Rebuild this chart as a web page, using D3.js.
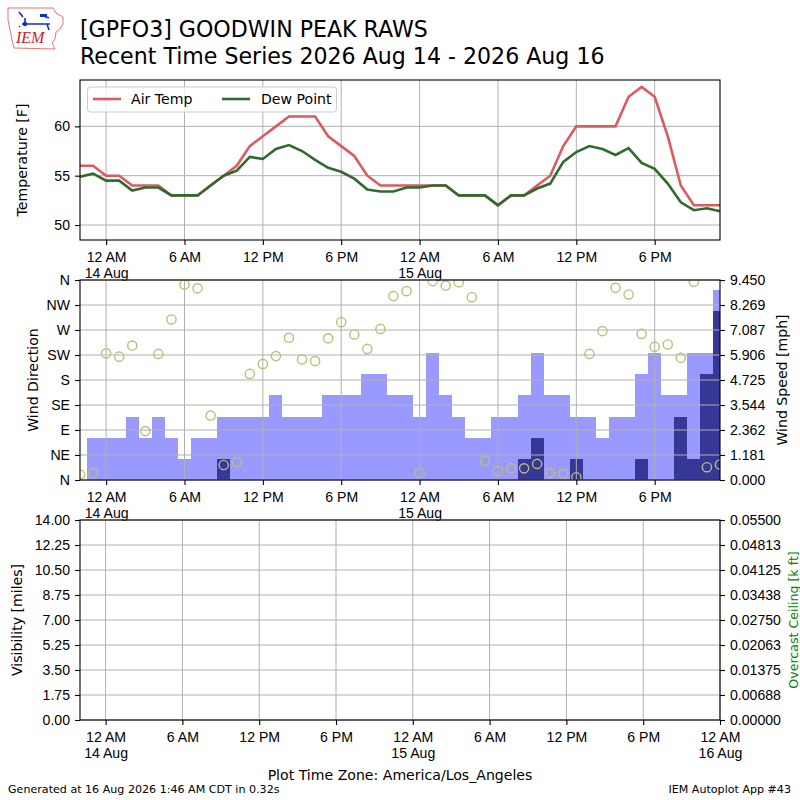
<!DOCTYPE html>
<html>
<head>
<meta charset="utf-8">
<title>GPFO3 Recent Time Series</title>
<script src="https://d3js.org/d3.v7.min.js"></script>
<style>
  body { margin: 0; background: #fff; }
  svg { font-family: "DejaVu Sans", sans-serif; }
  .grid line { stroke: #b0b0b0; stroke-width: 1; }
  .axis line { stroke: #000; stroke-width: 1.1; }
  .axis text { font-size: 14.1px; fill: #000; }
  .label { font-size: 14.1px; }
</style>
</head>
<body>
<svg id="chart" width="800" height="800"></svg>
<script>
// hourly observations, 22:00 13 Aug to 23:00 15 Aug (local time)
const airTemp = [56, 56, 55, 55, 54, 54, 54, 53, 53, 53,
  54, 55, 56, 58, 59, 60, 61, 61, 61, 59,
  58, 57, 55, 54, 54, 54, 54, 54, 54, 53,
  53, 53, 52, 53, 53, 54, 55, 58, 60, 60,
  60, 60, 63, 64, 63, 59, 54, 52, 52, 52];
const dewPoint = [54.9, 55.2, 54.5, 54.5, 53.5, 53.8, 53.8, 53.0, 53.0, 53.0,
  54.0, 55.0, 55.5, 56.9, 56.7, 57.7, 58.1, 57.5, 56.6, 55.8,
  55.4, 54.7, 53.6, 53.4, 53.4, 53.8, 53.8, 54.0, 54.0, 53.0,
  53.0, 53.0, 52.0, 53.0, 53.0, 53.7, 54.2, 56.4, 57.4, 58.0,
  57.7, 57.1, 57.8, 56.3, 55.7, 54.2, 52.3, 51.5, 51.7, 51.4];
const windDir = [10, 12, 228, 222, 242, 88, 227, 289, 352, 345,
  116, 27, 32, 191, 209, 223, 256, 217, 214, 255,
  284, 262, 236, 272, 331, 340, 13, 358, 350, 356,
  329, 35, 16, 21, 21, 29, 13, 11, 5, 227,
  268, 346, 334, 263, 240, 244, 220, 357, 23, 28];
const windGust = [0, 2, 2, 2, 3, 2, 3, 2, 1, 2,
  2, 3, 3, 3, 3, 4, 3, 3, 3, 4,
  4, 4, 5, 5, 4, 4, 3, 6, 4, 3,
  2, 2, 3, 3, 4, 6, 4, 4, 3, 3,
  2, 3, 3, 5, 6, 4, 4, 6, 6, 9];
const windSpeed = [0, 0, 0, 0, 0, 0, 0, 0, 0, 0,
  0, 1, 0, 0, 0, 0, 0, 0, 0, 0,
  0, 0, 0, 0, 0, 0, 0, 0, 0, 0,
  0, 0, 0, 0, 1, 2, 0, 0, 1, 0,
  0, 0, 0, 1, 0, 0, 3, 1, 5, 8];
const dirLabels = ["N", "NE", "E", "SE", "S", "SW", "W", "NW", "N"];
const tempTicks = [50, 55, 60];
const speedMax = 9.45;
const visMax = 14;
const ceilMax = 0.055;

const svg = d3.select("#chart");
const L = 80, R = 720;

const start = new Date(Date.UTC(2026, 7, 13, 22));
const end = new Date(Date.UTC(2026, 7, 16, 0));
const hours = d3.utcHour.range(start, end);   // 50 hourly stamps
const obs = hours.map((t, i) => ({
  t, air: airTemp[i], dew: dewPoint[i], dir: windDir[i], gust: windGust[i], sped: windSpeed[i]
}));

const x = d3.scaleUtc().domain([hours[0], hours[hours.length - 1]]).range([L, R]);
const xVis = d3.scaleUtc().domain([start, end]).range([L, R]);

const fmtHour = d3.utcFormat("%-I %p");
const fmtDay = d3.utcFormat("%-d %b");

function timeAxis(scale, y) {
  const g = svg.append("g").attr("class", "axis").attr("transform", `translate(0,${y})`)
    .call(d3.axisBottom(scale).ticks(d3.utcHour.every(6)).tickSize(5).tickSizeOuter(0).tickFormat(""));
  g.select(".domain").remove();
  g.selectAll(".tick text").each(function(d) {
    const t = d3.select(this).attr("dy", null).attr("y", null);
    t.append("tspan").attr("x", 0).attr("y", 22).text(fmtHour(d));
    if (d.getUTCHours() === 0) t.append("tspan").attr("x", 0).attr("y", 38).text(fmtDay(d));
  });
}

function vGrid(scale, top, bottom) {
  svg.append("g").attr("class", "grid").selectAll("line")
    .data(scale.ticks(d3.utcHour.every(6))).join("line")
    .attr("x1", d => scale(d)).attr("x2", d => scale(d))
    .attr("y1", top).attr("y2", bottom);
}
function hGrid(ys) {
  svg.append("g").attr("class", "grid").selectAll("line")
    .data(ys).join("line")
    .attr("x1", L).attr("x2", R).attr("y1", d => d).attr("y2", d => d);
}
function frame(top, bottom) {
  svg.append("rect").attr("x", L).attr("y", top).attr("width", R - L).attr("height", bottom - top)
    .attr("fill", "none").attr("stroke", "#000").attr("stroke-width", 1.1);
}
function yLabel(text, cx, cy, color) {
  svg.append("text").attr("class", "label")
    .attr("transform", `translate(${cx},${cy}) rotate(-90)`)
    .attr("text-anchor", "middle").attr("fill", color || "#000").text(text);
}

// ---------- title / logo ----------
svg.append("text").attr("x", 80).attr("y", 37).attr("font-size", "22.1px").text("[GPFO3] GOODWIN PEAK RAWS");
svg.append("text").attr("x", 80).attr("y", 64).attr("font-size", "22.1px").text("Recent Time Series 2026 Aug 14 - 2026 Aug 16");

const logo = svg.append("g");
logo.append("path")
  .attr("d", "M8,8 L53,8 L56,13 L63,17 L63,24 L60,29 L56,32 L55,39 L52,43 L55,49 L14,48 L12,40 L10,30 L8,20 Z")
  .attr("fill", "none").attr("stroke", "#e05050").attr("stroke-width", 0.8);
logo.append("text").attr("x", 16).attr("y", 43).attr("font-family", "Liberation Serif")
  .attr("font-style", "italic").attr("font-size", "16px").attr("fill", "#d42020").text("IEM");
logo.append("path").attr("d", "M22,24 L50,24 M25,24 L25,18 M19,12 L23,17 M41,15 L49,18 M47,24 L49,30 M20,26 L19,27")
  .attr("stroke", "#1030c0").attr("stroke-width", 1.6).attr("fill", "none");
logo.append("circle").attr("cx", 25).attr("cy", 24).attr("r", 2.2).attr("fill", "#1030c0");
logo.append("rect").attr("x", 40).attr("y", 14).attr("width", 7).attr("height", 3).attr("fill", "#1030c0");

// ---------- temperature panel ----------
const tTop = 80, tBot = 240;
const yT = d3.scaleLinear().domain([48.48, 64.7]).range([tBot, tTop]);
vGrid(x, tTop, tBot);
hGrid(tempTicks.map(yT));

svg.append("path").datum(obs).attr("fill", "none").attr("stroke", "#dc5a60").attr("stroke-width", 2.6)
  .attr("d", d3.line().x(d => x(d.t)).y(d => yT(d.air)));
svg.append("path").datum(obs).attr("fill", "none").attr("stroke", "#2f6a2f").attr("stroke-width", 2.6)
  .attr("d", d3.line().x(d => x(d.t)).y(d => yT(d.dew)));

svg.append("g").attr("class", "axis").attr("transform", `translate(${L},0)`)
  .call(d3.axisLeft(yT).tickValues(tempTicks).tickSize(5).tickPadding(5).tickSizeOuter(0))
  .select(".domain").remove();
timeAxis(x, tBot);
frame(tTop, tBot);
yLabel("Temperature [F]", 27, 160);

const lg = svg.append("g");
lg.append("rect").attr("x", 87.5).attr("y", 87).attr("width", 249).attr("height", 25).attr("rx", 3)
  .attr("fill", "#fff").attr("fill-opacity", 0.8).attr("stroke", "#cccccc");
lg.append("line").attr("x1", 93).attr("x2", 121).attr("y1", 99).attr("y2", 99).attr("stroke", "#dc5a60").attr("stroke-width", 2.6);
lg.append("text").attr("class", "label").attr("x", 131).attr("y", 104).text("Air Temp");
lg.append("line").attr("x1", 222).attr("x2", 250).attr("y1", 99).attr("y2", 99).attr("stroke", "#2f6a2f").attr("stroke-width", 2.6);
lg.append("text").attr("class", "label").attr("x", 261).attr("y", 104).text("Dew Point");

// ---------- wind panel ----------
const wTop = 280, wBot = 480;
const yDir = d3.scaleLinear().domain([0, 360]).range([wBot, wTop]);
const ySpd = d3.scaleLinear().domain([0, speedMax]).range([wBot, wTop]);

svg.append("clipPath").attr("id", "wclip").append("rect")
  .attr("x", L).attr("y", wTop).attr("width", R - L).attr("height", wBot - wTop);
const bw = x(hours[1]) - x(hours[0]);
const bars = svg.append("g").attr("clip-path", "url(#wclip)");
bars.selectAll("rect.gust").data(obs.filter(d => d.gust > 0)).join("rect").attr("class", "gust")
  .attr("x", d => x(d.t) - bw / 2).attr("width", bw)
  .attr("y", d => ySpd(d.gust)).attr("height", d => wBot - ySpd(d.gust))
  .attr("fill", "#9999ff").attr("shape-rendering", "crispEdges");
bars.selectAll("rect.sped").data(obs.filter(d => d.sped > 0)).join("rect").attr("class", "sped")
  .attr("x", d => x(d.t) - bw / 2).attr("width", bw)
  .attr("y", d => ySpd(d.sped)).attr("height", d => wBot - ySpd(d.sped))
  .attr("fill", "#373797").attr("shape-rendering", "crispEdges");

vGrid(x, wTop, wBot);
hGrid(d3.range(0, 361, 45).map(yDir));

svg.append("g").attr("clip-path", "url(#wclip)").selectAll("circle").data(obs).join("circle")
  .attr("cx", d => x(d.t)).attr("cy", d => yDir(d.dir)).attr("r", 4.6)
  .attr("fill", "none").attr("stroke", "#bdbd78").attr("stroke-width", 1.4);

svg.append("g").attr("class", "axis").attr("transform", `translate(${L},0)`)
  .call(d3.axisLeft(yDir).tickValues(d3.range(0, 361, 45)).tickSize(5).tickPadding(5).tickSizeOuter(0)
    .tickFormat((d, i) => dirLabels[i]))
  .select(".domain").remove();
svg.append("g").attr("class", "axis").attr("transform", `translate(${R},0)`)
  .call(d3.axisRight(ySpd).tickValues(d3.range(0, 9).map(k => k * speedMax / 8)).tickSize(5).tickPadding(5)
    .tickSizeOuter(0).tickFormat(d3.format(".3f")))
  .select(".domain").remove();
timeAxis(x, wBot);
frame(wTop, wBot);
yLabel("Wind Direction", 38, 380);
yLabel("Wind Speed [mph]", 787, 380);

// ---------- visibility / ceiling panel (no data) ----------
const vTop = 520, vBot = 720;
const yVis = d3.scaleLinear().domain([0, visMax]).range([vBot, vTop]);
const yCeil = d3.scaleLinear().domain([0, ceilMax]).range([vBot, vTop]);
vGrid(xVis, vTop, vBot);
hGrid(d3.range(0, 9).map(k => yVis(k * visMax / 8)));
svg.append("g").attr("class", "axis").attr("transform", `translate(${L},0)`)
  .call(d3.axisLeft(yVis).tickValues(d3.range(0, 9).map(k => k * visMax / 8)).tickSize(5).tickPadding(5)
    .tickSizeOuter(0).tickFormat(d3.format(".2f")))
  .select(".domain").remove();
svg.append("g").attr("class", "axis").attr("transform", `translate(${R},0)`)
  .call(d3.axisRight(yCeil).tickValues(d3.range(0, 9).map(k => k * ceilMax / 8)).tickSize(5).tickPadding(5)
    .tickSizeOuter(0).tickFormat(d3.format(".5f")))
  .select(".domain").remove();
timeAxis(xVis, vBot);
frame(vTop, vBot);
yLabel("Visibility [miles]", 22, 620);
// the reference lets this label run off the right edge; kept just inside here
svg.append("text").attr("font-size", "12.6px")
  .attr("transform", "translate(798,620) rotate(-90)")
  .attr("text-anchor", "middle").attr("fill", "#008000").text("Overcast Ceiling [k ft]");

// ---------- footer ----------
svg.append("text").attr("class", "label").attr("x", 400).attr("y", 780).attr("text-anchor", "middle")
  .text("Plot Time Zone: America/Los_Angeles");
svg.append("text").attr("x", 8).attr("y", 793).attr("font-size", "11.1px")
  .text("Generated at 16 Aug 2026 1:46 AM CDT in 0.32s");
svg.append("text").attr("x", 791).attr("y", 793).attr("font-size", "11.1px").attr("text-anchor", "end")
  .text("IEM Autoplot App #43");
</script>
</body>
</html>
